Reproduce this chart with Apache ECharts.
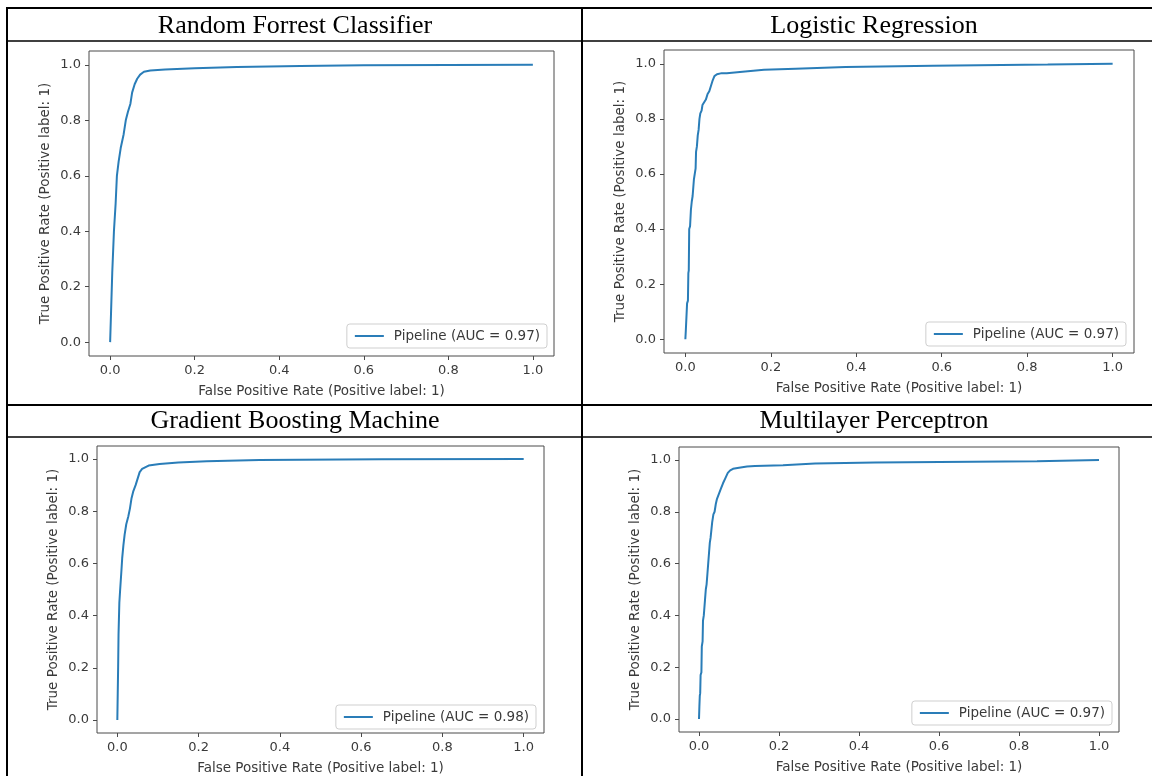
<!DOCTYPE html>
<html>
<head>
<meta charset="utf-8">
<title>ROC curves</title>
<script src="https://cdn.jsdelivr.net/npm/echarts@6/dist/echarts.min.js"></script>
<style>
    html, body { margin: 0; padding: 0; background: #fff; }
    #grafico-roc { width: 1152px; height: 776px; }
</style>
</head>
<body>
<div id="grafico-roc"></div>
<script>
// titles of the table cells and legend entries
const modelTitles = ['Random Forrest Classifier', 'Logistic Regression', 'Gradient Boosting Machine', 'Multilayer Perceptron'];
const aucLabels = ['Pipeline (AUC = 0.97)', 'Pipeline (AUC = 0.97)', 'Pipeline (AUC = 0.98)', 'Pipeline (AUC = 0.97)'];
const tickValues = [0, 0.2, 0.4, 0.6, 0.8, 1.0];
const xAxisLabel = 'False Positive Rate (Positive label: 1)';
const yAxisLabel = 'True Positive Rate (Positive label: 1)';

// Random Forest ROC
const rfFpr = [0, 0.002, 0.005, 0.009, 0.013, 0.016, 0.02, 0.025, 0.032, 0.037, 0.042, 0.048, 0.052, 0.058, 0.064, 0.071, 0.08, 0.095, 0.13, 0.2, 0.3, 0.45, 0.6, 1];
const rfTpr = [0, 0.1, 0.25, 0.4, 0.5, 0.6, 0.65, 0.7, 0.75, 0.8, 0.83, 0.86, 0.9, 0.93, 0.95, 0.965, 0.975, 0.98, 0.983, 0.988, 0.992, 0.996, 0.999, 1];

// Logistic Regression ROC (stepped)
const lrFpr = [0, 0.001, 0.003, 0.004, 0.006, 0.007, 0.008, 0.009, 0.011, 0.013, 0.015, 0.017, 0.018, 0.02, 0.022, 0.024, 0.025, 0.027, 0.029, 0.031, 0.033, 0.035, 0.038, 0.04, 0.044, 0.048, 0.052, 0.056, 0.06, 0.064, 0.068, 0.074, 0.085, 0.097, 0.097, 0.14, 0.14, 0.184, 0.184, 0.258, 0.258, 0.375, 0.375, 0.579, 0.579, 0.848, 0.848, 1];
const lrTpr = [0, 0.03, 0.03, 0.13, 0.14, 0.24, 0.25, 0.4, 0.41, 0.47, 0.5, 0.52, 0.54, 0.58, 0.6, 0.62, 0.68, 0.7, 0.74, 0.76, 0.8, 0.82, 0.83, 0.85, 0.86, 0.87, 0.89, 0.9, 0.92, 0.94, 0.955, 0.962, 0.966, 0.966, 0.972, 0.972, 0.978, 0.978, 0.982, 0.982, 0.988, 0.988, 0.993, 0.993, 0.997, 0.997, 1, 1];

// Gradient Boosting ROC
const gbFpr = [0, 0.001, 0.002, 0.003, 0.005, 0.007, 0.01, 0.012, 0.015, 0.018, 0.022, 0.027, 0.031, 0.035, 0.039, 0.045, 0.05, 0.055, 0.061, 0.077, 0.104, 0.15, 0.22, 0.35, 0.65, 1];
const gbTpr = [0, 0.1, 0.2, 0.33, 0.45, 0.5, 0.57, 0.62, 0.67, 0.71, 0.75, 0.78, 0.81, 0.85, 0.875, 0.9, 0.925, 0.95, 0.962, 0.975, 0.981, 0.987, 0.992, 0.996, 0.999, 1];

// Multilayer Perceptron ROC (stepped)
const mlpFpr = [0, 0.001, 0.002, 0.003, 0.004, 0.006, 0.007, 0.009, 0.01, 0.012, 0.013, 0.015, 0.017, 0.019, 0.021, 0.023, 0.025, 0.027, 0.029, 0.031, 0.033, 0.036, 0.039, 0.042, 0.045, 0.05, 0.055, 0.06, 0.066, 0.072, 0.078, 0.085, 0.1, 0.12, 0.14, 0.14, 0.21, 0.21, 0.29, 0.29, 0.44, 0.44, 0.845, 0.845, 1];
const mlpTpr = [0, 0.05, 0.09, 0.1, 0.17, 0.18, 0.28, 0.3, 0.38, 0.4, 0.42, 0.46, 0.5, 0.52, 0.56, 0.6, 0.64, 0.68, 0.7, 0.73, 0.76, 0.79, 0.8, 0.83, 0.85, 0.87, 0.89, 0.91, 0.93, 0.95, 0.96, 0.966, 0.97, 0.975, 0.977, 0.98, 0.98, 0.985, 0.986, 0.99, 0.99, 0.995, 0.995, 1, 1];

const curves = [
    [rfFpr, rfTpr],
    [lrFpr, lrTpr],
    [gbFpr, gbTpr],
    [mlpFpr, mlpTpr]
];

// layout of each plot inside the table
const panels = [
    { grid: { left: 89, top: 51, width: 465, height: 305 }, legend: { right: 605, bottom: 428 }, title: [295, 26] },
    { grid: { left: 664, top: 50, width: 470, height: 303 }, legend: { right: 26, bottom: 430 }, title: [874, 26] },
    { grid: { left: 97, top: 446, width: 447, height: 291 }, legend: { right: 616, bottom: 47 }, title: [295, 421] },
    { grid: { left: 679, top: 447, width: 440, height: 285 }, legend: { right: 40, bottom: 51 }, title: [874, 421] }
];

const lineColor = '#2a7db8';
const frameColor = '#4a4a4a';
const textColor = '#3a3a3a';
const fontFamily = 'DejaVu Sans';

function renderGraficoRoc() {
    const chartDom = document.getElementById('grafico-roc');
    const myChart = echarts.init(chartDom, null, { renderer: 'canvas' });

    const grids = [], xAxes = [], yAxes = [], series = [], legends = [];

    panels.forEach((p, i) => {
        grids.push(Object.assign({
            show: true,
            borderColor: frameColor,
            borderWidth: 1,
            backgroundColor: '#fff',
            containLabel: false
        }, p.grid));

        const axisBase = {
            type: 'value',
            gridIndex: i,
            min: -0.05,
            max: 1.05,
            nameLocation: 'middle',
            nameTextStyle: { fontFamily: fontFamily, fontSize: 13.5, color: textColor },
            axisLine: { show: false, onZero: false },
            splitLine: { show: false },
            axisTick: {
                show: true,
                inside: false,
                length: 4,
                customValues: tickValues,
                lineStyle: { color: frameColor, width: 1 }
            },
            axisLabel: {
                customValues: tickValues,
                margin: 8,
                fontFamily: fontFamily,
                fontSize: 13,
                color: textColor,
                formatter: v => v.toFixed(1)
            }
        };

        xAxes.push(Object.assign({}, axisBase, { name: xAxisLabel, nameGap: 28, position: 'bottom' }));
        yAxes.push(Object.assign({}, axisBase, { name: yAxisLabel, nameGap: 37, position: 'left' }));

        const [fpr, tpr] = curves[i];
        series.push({
            name: aucLabels[i],
            type: 'line',
            xAxisIndex: i,
            yAxisIndex: i,
            data: fpr.map((x, k) => [x, tpr[k]]),
            showSymbol: false,
            symbol: 'none',
            lineStyle: { color: lineColor, width: 2 },
            itemStyle: { color: lineColor },
            silent: true
        });

        legends.push(Object.assign({
            data: [aucLabels[i]],
            orient: 'vertical',
            icon: 'rect',
            itemWidth: 29,
            itemHeight: 2,
            padding: [5, 7, 5, 8],
            borderColor: '#cfcfcf',
            borderWidth: 1,
            borderRadius: 3,
            backgroundColor: '#fff',
            selectedMode: false,
            textStyle: { fontFamily: fontFamily, fontSize: 13.5, color: textColor, padding: [0, 0, 0, 5] }
        }, p.legend));
    });

    // table borders and cell titles
    const tableLine = (x1, y1, x2, y2, w) => ({
        type: 'line',
        shape: { x1, y1, x2, y2 },
        style: { stroke: '#000', lineWidth: w },
        z: 100
    });
    const graphic = [
        tableLine(7, 8, 1152, 8, 2),
        tableLine(7, 7, 7, 776, 2),
        tableLine(582, 7, 582, 776, 2),
        tableLine(7, 41, 1152, 41, 1.5),
        tableLine(7, 405, 1152, 405, 2),
        tableLine(7, 437, 1152, 437, 1.5)
    ];
    panels.forEach((p, i) => {
        graphic.push({
            type: 'text',
            x: p.title[0],
            y: p.title[1],
            z: 100,
            style: {
                text: modelTitles[i],
                fontFamily: 'Liberation Serif',
                fontSize: 26,
                fill: '#000',
                align: 'center',
                verticalAlign: 'middle'
            }
        });
    });

    const option = {
        animation: false,
        backgroundColor: '#fff',
        grid: grids,
        xAxis: xAxes,
        yAxis: yAxes,
        legend: legends,
        series: series,
        graphic: graphic
    };
    myChart.setOption(option);
}

renderGraficoRoc();
</script>
</body>
</html>
